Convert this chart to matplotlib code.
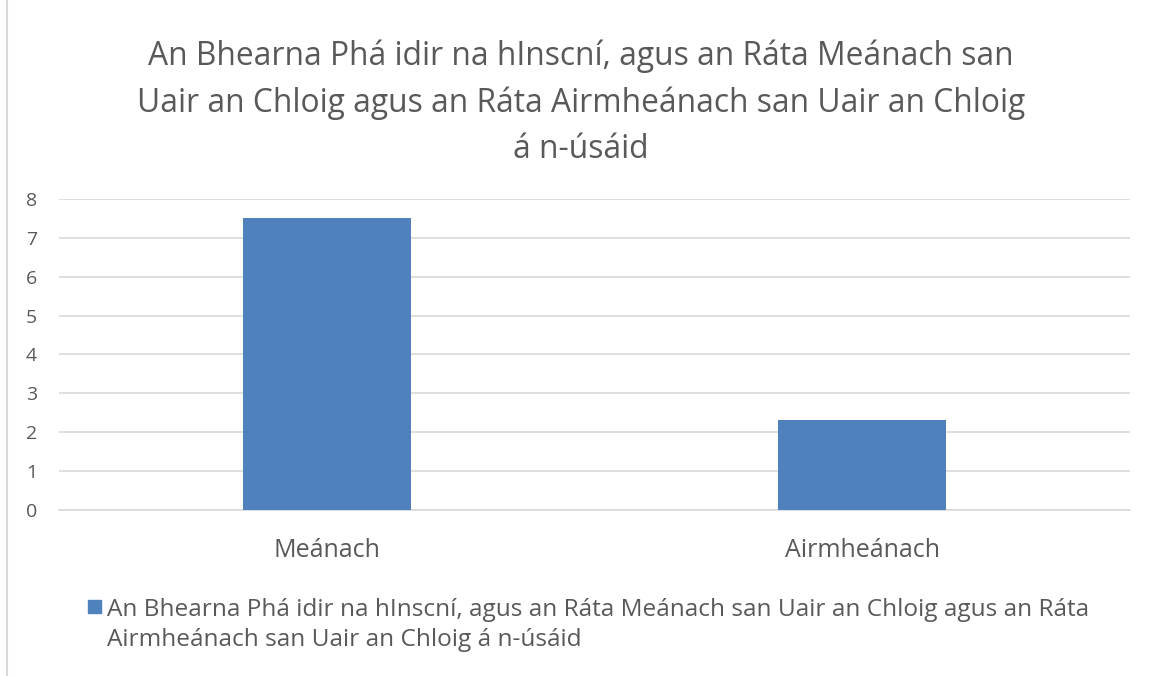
import matplotlib.pyplot as plt
from matplotlib.lines import Line2D

categories = ['Meánach', 'Airmheánach']
values = [7.5, 2.32]
yticks = [0, 1, 2, 3, 4, 5, 6, 7, 8]
title = ('An Bhearna Phá idir na hInscní, agus an Ráta Meánach san\n'
         'Uair an Chloig agus an Ráta Airmheánach san Uair an Chloig\n'
         'á n-úsáid')
legend_label = ('An Bhearna Phá idir na hInscní, agus an Ráta Meánach san Uair an Chloig agus an Ráta\n'
                'Airmheánach san Uair an Chloig á n-úsáid')

plt.rcParams['font.family'] = ['Open Sans', 'DejaVu Sans']
grey = '#595959'
blue = '#4f81bd'

fig = plt.figure(figsize=(11.51, 6.76), dpi=100)
ax = fig.add_axes([0.0513, 0.2456, 0.9305, 0.46])

x = range(len(categories))
ax.bar(x, values, width=0.314, color=blue, zorder=3)
ax.set_xlim(-0.5, len(categories) - 0.5)
ax.set_ylim(0, 8)
ax.set_yticks(yticks)
ax.set_xticks(list(x))
ax.set_xticklabels(categories, fontsize=18, color=grey)
ax.tick_params(axis='y', labelsize=14, colors=grey, length=0, pad=16)
ax.tick_params(axis='x', length=0, pad=20)
ax.grid(axis='y', color='#d9d9d9', linewidth=1.2, zorder=0)
for s in ['top', 'right', 'left']:
    ax.spines[s].set_visible(False)
ax.spines['bottom'].set_color('#d9d9d9')
ax.spines['bottom'].set_linewidth(1.2)

fig.text(0.505, 0.848, title, ha='center', va='center', fontsize=22.9,
         color=grey, linespacing=1.52)

# legend drawn manually below the axes
fig.patches.append(plt.Rectangle((0.0765, 0.093), 0.0113, 0.0195, transform=fig.transFigure,
                                 color=blue))
fig.text(0.093, 0.0754, legend_label, ha='left', va='center', fontsize=17.6,
         color=grey, linespacing=1.35)

# chart frame edge on the left
fig.add_artist(Line2D([0.006, 0.006], [0, 1], transform=fig.transFigure,
                      color='#d9d9d9', linewidth=1.5))

fig.savefig('out.png', dpi=100)
